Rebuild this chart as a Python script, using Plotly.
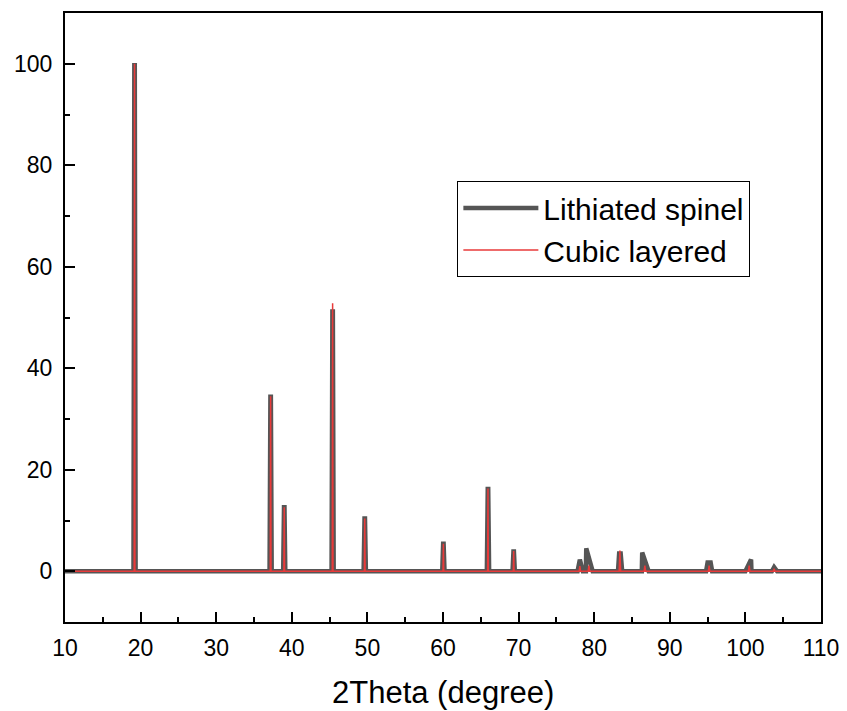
import plotly.graph_objects as go

# Lithiated spinel (gray) pattern: 2-theta and intensity points
spinel_x = [10.0,
            19.06, 19.17, 19.23, 19.34,
            37.06, 37.17, 37.23, 37.34,
            38.86, 38.97, 39.03, 39.14,
            45.26, 45.37, 45.43, 45.54,
            49.5, 49.62, 49.68, 49.8,
            59.9, 60.02, 60.08, 60.2,
            65.8, 65.92, 65.98, 66.1,
            69.2, 69.32, 69.38, 69.5,
            77.8, 78.1, 78.5,
            78.9, 78.95, 79.8,
            83.15, 83.3, 83.5, 83.7,
            86.3, 86.35, 87.2,
            94.8, 95.0, 95.4, 95.6,
            100.0, 100.75, 100.8,
            103.5, 103.8, 104.2,
            110.0]
spinel_y = [0.0,
            0.0, 99.7, 99.7, 0.0,
            0.0, 34.4, 34.4, 0.0,
            0.0, 12.6, 12.6, 0.0,
            0.0, 51.2, 51.2, 0.0,
            0.0, 10.4, 10.4, 0.0,
            0.0, 5.4, 5.4, 0.0,
            0.0, 16.2, 16.2, 0.0,
            0.0, 3.9, 3.9, 0.0,
            0.0, 2.3, 0.0,
            0.0, 4.5, 0.0,
            0.0, 3.5, 3.5, 0.0,
            0.0, 3.7, 0.0,
            0.0, 1.7, 1.7, 0.0,
            0.0, 2.3, 0.0,
            0.0, 0.8, 0.0,
            0.0]

# Cubic layered (red) pattern
cubic_x = [10.0,
           19.15, 19.2, 19.25,
           37.15, 37.2, 37.25,
           38.95, 39.0, 39.05,
           45.35, 45.4, 45.45,
           49.6, 49.65, 49.7,
           60.0, 60.05, 60.1,
           65.9, 65.95, 66.0,
           69.3, 69.35, 69.4,
           78.0, 78.1, 78.2,
           79.2, 79.3, 79.4,
           83.3, 83.4, 83.5,
           86.6, 86.7, 86.8,
           95.1, 95.2, 95.3,
           100.4, 100.5, 100.6,
           103.7, 103.8, 103.9,
           110.0]
cubic_y = [0.0,
           0.0, 100.0, 0.0,
           0.0, 34.5, 0.0,
           0.0, 12.6, 0.0,
           0.0, 52.8, 0.0,
           0.0, 10.4, 0.0,
           0.0, 5.4, 0.0,
           0.0, 16.3, 0.0,
           0.0, 4.0, 0.0,
           0.0, 1.0, 0.0,
           0.0, 1.1, 0.0,
           0.0, 4.1, 0.0,
           0.0, 1.1, 0.0,
           0.0, 1.1, 0.0,
           0.0, 1.1, 0.0,
           0.0, 0.5, 0.0,
           0.0]

x_ticks = [10, 20, 30, 40, 50, 60, 70, 80, 90, 100, 110]
y_ticks = [0, 20, 40, 60, 80, 100]
x_title = "2Theta (degree)"

FONT = "Liberation Sans, Arial, sans-serif"

fig = go.Figure()
fig.add_trace(go.Scatter(x=spinel_x, y=spinel_y, mode="lines",
                         name="Lithiated spinel",
                         line=dict(color="#555555", width=4.5)))
fig.add_trace(go.Scatter(x=cubic_x, y=cubic_y, mode="lines",
                         name="Cubic layered",
                         line=dict(color="#e83a3a", width=1.5)))

fig.add_annotation(text=x_title, xref="paper", yref="paper",
                   x=0.5, y=-0.116, xanchor="center", yanchor="middle",
                   showarrow=False, font=dict(family=FONT, size=31, color="black"))

fig.update_layout(
    width=847, height=711,
    margin=dict(l=65, r=26, t=13, b=89),
    paper_bgcolor="white", plot_bgcolor="white",
    font=dict(family=FONT, color="black", size=23),
    showlegend=True,
    legend=dict(x=0.519, y=0.724, xanchor="left", yanchor="top",
                bordercolor="black", borderwidth=1, bgcolor="white",
                font=dict(family=FONT, size=30, color="black"),
                itemwidth=75, tracegroupgap=0),
    xaxis=dict(range=[10, 110], tickmode="array", tickvals=x_ticks,
               ticktext=[str(v) for v in x_ticks],
               ticks="inside", ticklen=10, tickwidth=1.5, tickcolor="black",
               minor=dict(dtick=5, ticks="inside", ticklen=5, tickwidth=1.5,
                          tickcolor="black", showgrid=False),
               showline=True, linecolor="black", linewidth=2, mirror=True,
               showgrid=False, zeroline=False, automargin=False,
               ticklabelstandoff=4,
               tickfont=dict(family=FONT, size=23)),
    yaxis=dict(range=[-10, 110], tickmode="array", tickvals=y_ticks,
               ticktext=[str(v) for v in y_ticks],
               ticks="inside", ticklen=10, tickwidth=1.5, tickcolor="black",
               minor=dict(dtick=10, tick0=0, ticks="inside", ticklen=5,
                          tickwidth=1.5, tickcolor="black", showgrid=False),
               showline=True, linecolor="black", linewidth=2, mirror=True,
               showgrid=False, zeroline=False, automargin=False,
               ticklabelstandoff=6,
               tickfont=dict(family=FONT, size=23)),
)

fig.write_html("out.html", config={"displayModeBar": False},
               post_script="document.body.style.margin='0';document.body.style.padding='0';")
